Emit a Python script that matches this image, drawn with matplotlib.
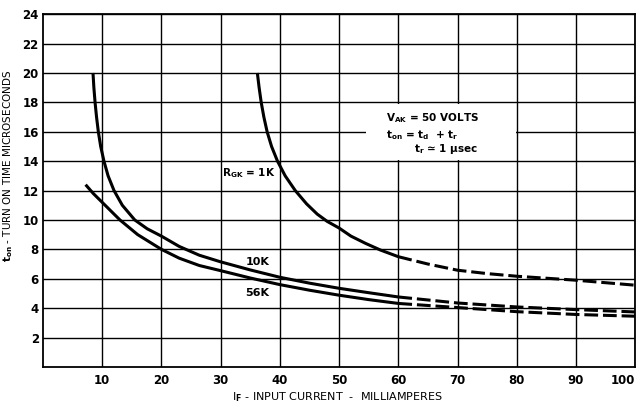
import numpy as np
import matplotlib.pyplot as plt
from matplotlib.patches import Rectangle

plt.rcParams['font.family'] = ['DejaVu Sans']
plt.rcParams['font.weight'] = 'bold'
plt.rcParams['mathtext.fontset'] = 'dejavusans'
plt.rcParams['mathtext.default'] = 'bf'

# turn-on time vs input current
x_1k = [36.2, 36.5, 36.85, 37.3, 37.85, 38.6, 39.6, 40.9, 42.6, 44.5, 46.3, 48.0, 50.0, 52.0, 54.5, 57.0, 60.0]
y_1k = [20.0, 19.0, 18.0, 17.0, 16.0, 15.0, 14.0, 13.0, 12.0, 11.1, 10.4, 9.9, 9.45, 8.9, 8.4, 7.95, 7.5]
x_1k_ext = [60, 65, 70, 75, 80, 90, 100]
y_1k_ext = [7.5, 7.0, 6.58, 6.35, 6.17, 5.9, 5.56]

x_10k = [8.45, 8.6, 8.8, 9.05, 9.35, 9.75, 10.3, 11.0, 12.0, 13.4, 15.5, 17.6, 20.0, 23.0, 26.4, 30.0, 35.0, 40.0, 45.0, 50.0, 55.0, 60.0]
y_10k = [20.0, 19.0, 18.0, 17.0, 16.0, 15.0, 14.0, 13.0, 12.0, 11.0, 10.0, 9.4, 8.9, 8.2, 7.6, 7.15, 6.6, 6.1, 5.7, 5.35, 5.05, 4.76]
x_10k_ext = [60, 70, 80, 90, 100]
y_10k_ext = [4.76, 4.35, 4.08, 3.9, 3.74]

x_56k = [7.2, 8.5, 10.0, 11.5, 13.0, 14.5, 16.0, 18.0, 20.0, 23.0, 26.4, 30.0, 35.0, 40.0, 45.0, 50.0, 55.0, 60.0]
y_56k = [12.4, 11.8, 11.2, 10.6, 10.0, 9.5, 9.0, 8.5, 8.0, 7.4, 6.9, 6.55, 6.05, 5.6, 5.22, 4.88, 4.58, 4.32]
x_56k_ext = [60, 70, 80, 90, 100]
y_56k_ext = [4.32, 4.04, 3.76, 3.57, 3.45]

xticks = [10, 20, 30, 40, 50, 60, 70, 80, 90, 100]
yticks = [2, 4, 6, 8, 10, 12, 14, 16, 18, 20, 22, 24]

fig = plt.figure(figsize=(6.41, 4.05), dpi=100)
ax = fig.add_axes([0.067, 0.094, 0.924, 0.871])

lw = 2.2
dash = (4.5, 1.6)
for xs, ys, xe, ye in [(x_1k, y_1k, x_1k_ext, y_1k_ext),
                       (x_10k, y_10k, x_10k_ext, y_10k_ext),
                       (x_56k, y_56k, x_56k_ext, y_56k_ext)]:
    ax.plot(xs, ys, color='black', lw=lw, solid_capstyle='butt',
            solid_joinstyle='round', zorder=3)
    ax.plot(xe, ye, color='black', lw=lw, dashes=dash,
            dash_joinstyle='round', zorder=3)

ax.set_xlim(0, 100)
ax.set_ylim(0, 24)
ax.set_xticks(xticks)
ax.set_yticks(yticks)
ax.tick_params(length=0, labelsize=8.5)
ax.tick_params(axis='x', pad=5)
ax.tick_params(axis='y', pad=3)
ax.get_xticklabels()[-1].set_horizontalalignment('right')
ax.set_axisbelow(True)
ax.grid(True, color='black', lw=1.0)
for s in ax.spines.values():
    s.set_linewidth(1.3)

# white box behind the conditions note hides the grid
ax.add_patch(Rectangle((54.6, 14.1), 25.3, 3.8, facecolor='white', edgecolor='none', zorder=1))

ax.text(57.9, 16.95, r'V$_{AK}$ = 50 VOLTS', fontsize=7.5, va='center', ha='left')
ax.text(57.9, 15.8, r'$t_{on}$ = $t_d$  + $t_r$', fontsize=7.5, va='center', ha='left')
ax.text(62.7, 14.8, r'$t_r$ ≃ 1 μsec', fontsize=7.5, va='center', ha='left')

ax.text(34.8, 13.2, r'R$_{GK}$ = 1K', fontsize=7.5, va='center', ha='center')
ax.text(36.3, 7.12, '10K', fontsize=8, va='center', ha='center')
ax.text(36.2, 5.05, '56K', fontsize=8, va='center', ha='center')

ax.set_xlabel(r'I$_F$ - INPUT CURRENT  -  MILLIAMPERES', fontsize=8)
ax.xaxis.set_label_coords(0.498, -0.065)
ax.set_ylabel(r'$t_{on}$ - TURN ON TIME MICROSECONDS', fontsize=7.5)
ax.yaxis.set_label_coords(-0.048, 0.57)

fig.savefig('out.png', dpi=100)
